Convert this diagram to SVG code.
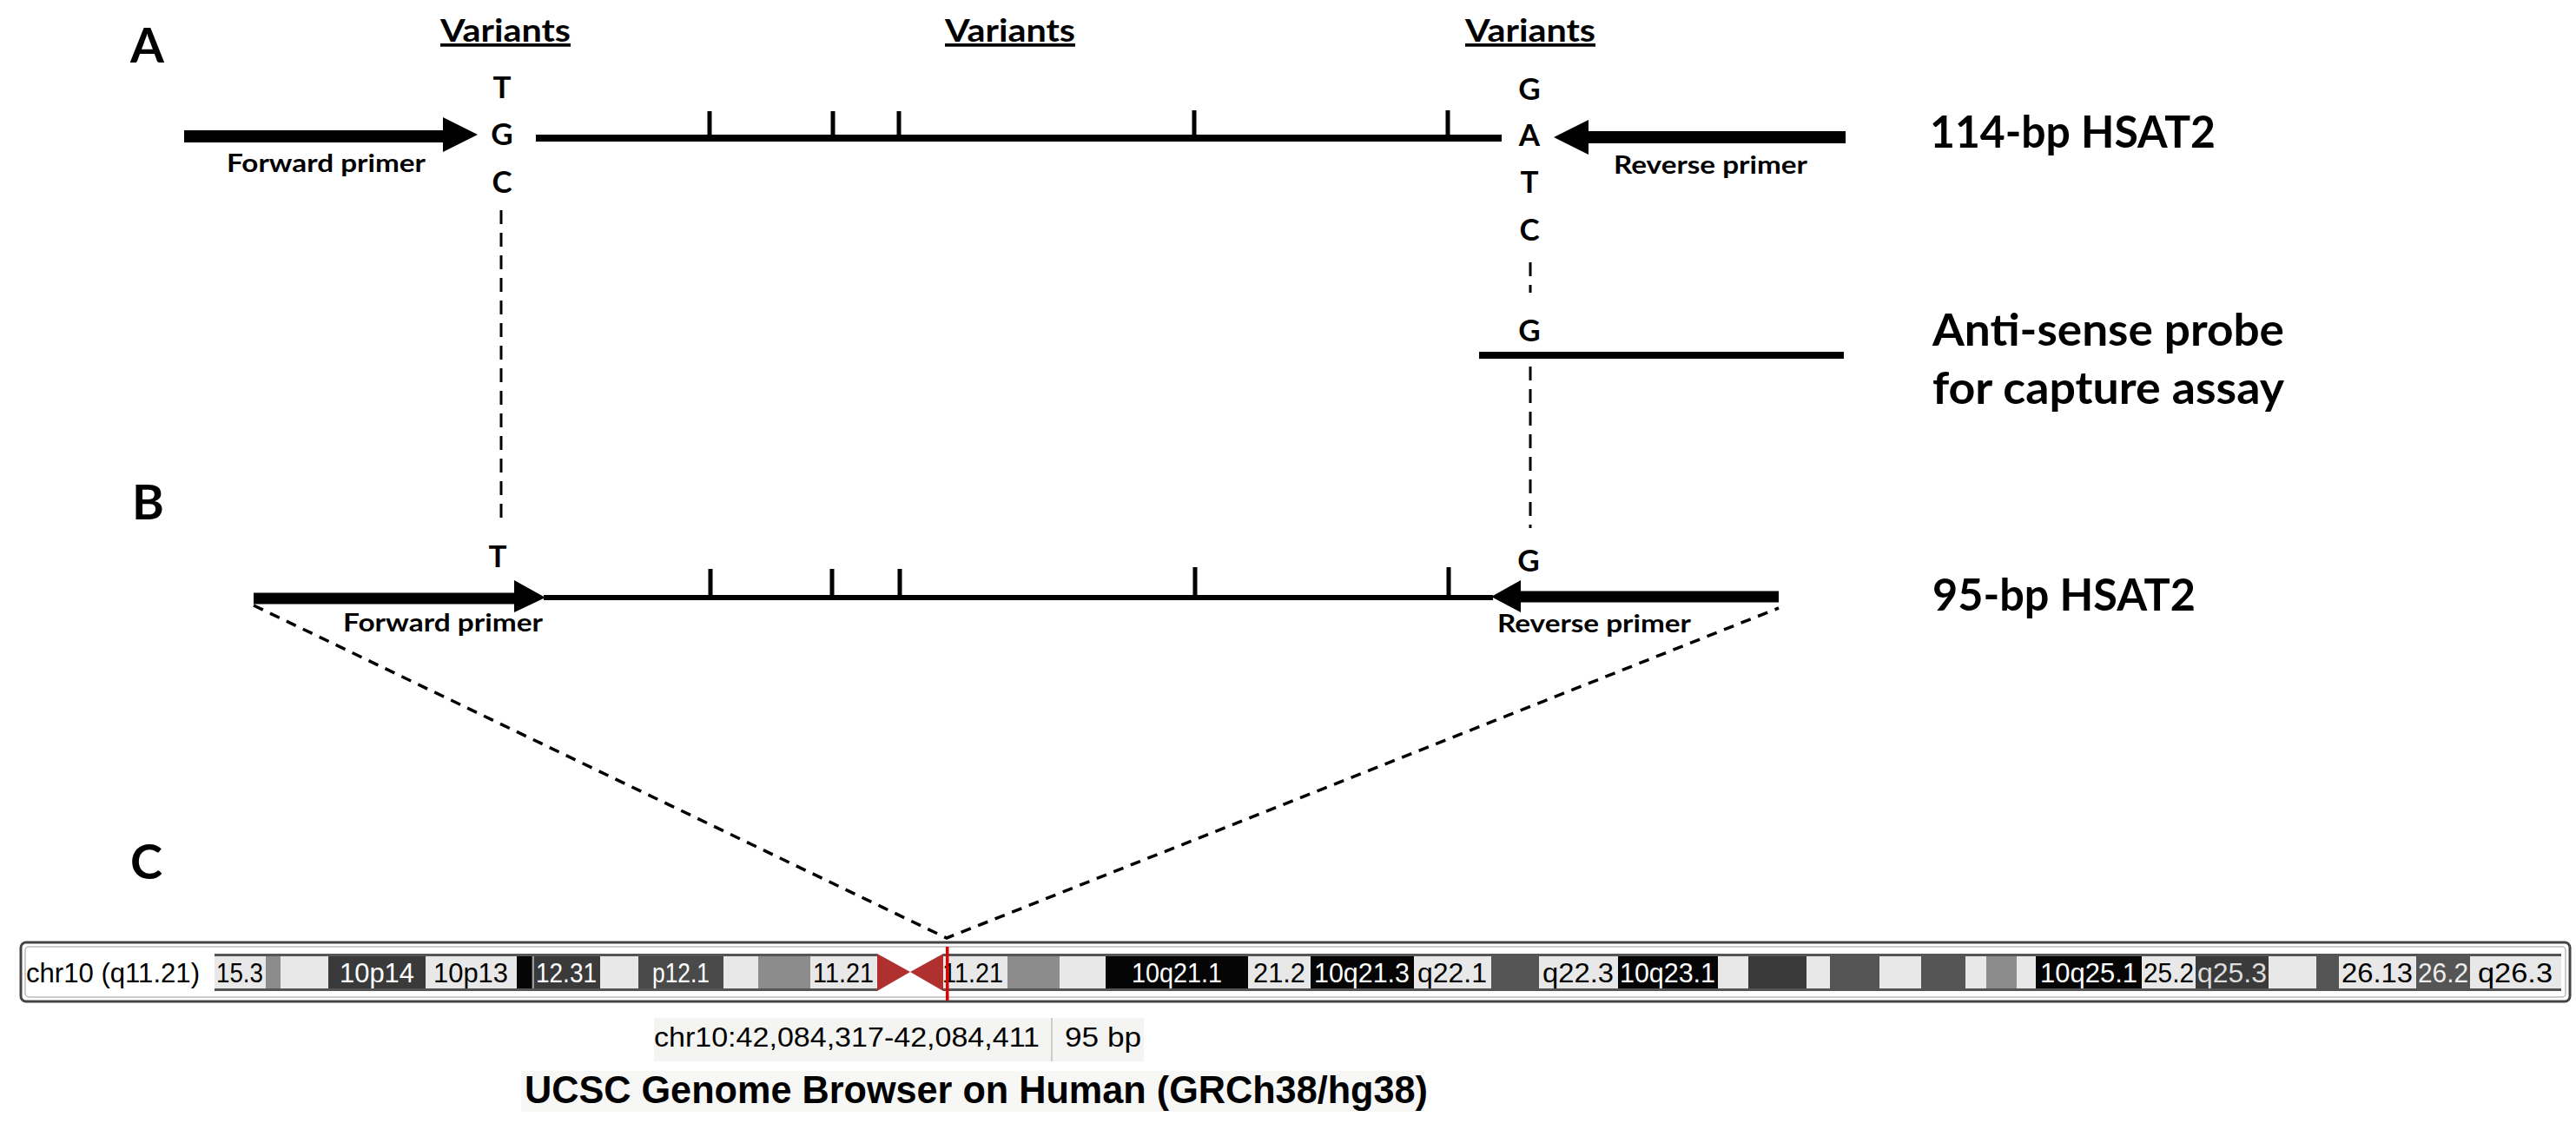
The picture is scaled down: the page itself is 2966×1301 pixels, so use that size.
<svg xmlns="http://www.w3.org/2000/svg" width="2966" height="1301" viewBox="0 0 2966 1301">
<style>
.c{font-family:Lato,"Open Sans",sans-serif;font-weight:bold;fill:#000}
.lab{font-size:56px}
.var{font-size:37px;text-decoration:underline}
.nt{font-size:35px;text-anchor:middle}
.pr{font-size:29px}
.big{font-size:51px}
.ln{stroke:#000;fill:none}
.dv{stroke:#000;stroke-width:3;stroke-dasharray:16 10;fill:none}
.dd{stroke:#000;stroke-width:3.5;stroke-dasharray:12 9;fill:none}
.bt{font-family:"Liberation Sans",Arial,sans-serif;font-size:32px;text-anchor:middle}
.w{fill:#fff}
.k{fill:#000}
.L{fill:#e8e8e8}
.G{fill:#8c8c8c}
.D{fill:#3a3a3a}
.M{fill:#555}
.B{fill:#050505}
.a{font-family:"Liberation Sans",Arial,sans-serif}
</style>
<rect width="2966" height="1301" fill="#fff"/>
<g id="labels">
<text class="c lab" x="150" y="72">A</text>
<text class="c lab" x="152" y="598">B</text>
<text class="c lab" x="150" y="1012">C</text>
</g>
<g id="node-A">
<text class="c var" x="507" y="48" textLength="150" lengthAdjust="spacingAndGlyphs">Variants</text>
<text class="c var" x="1088" y="48" textLength="150" lengthAdjust="spacingAndGlyphs">Variants</text>
<text class="c var" x="1687" y="48" textLength="150" lengthAdjust="spacingAndGlyphs">Variants</text>
<text class="c nt" x="578" y="113">T</text>
<text class="c nt" x="578" y="167">G</text>
<text class="c nt" x="578" y="222">C</text>
<text class="c nt" x="1761" y="115">G</text>
<text class="c nt" x="1761" y="168">A</text>
<text class="c nt" x="1761" y="222">T</text>
<text class="c nt" x="1761" y="277">C</text>
<text class="c nt" x="1761" y="393">G</text>
<path d="M212 157H512" stroke="#000" stroke-width="14"/>
<polygon points="510,135 550,155 510,175"/>
<path d="M1829 158H2125" stroke="#000" stroke-width="14"/>
<polygon points="1829,138 1789,158 1829,178"/>
<path class="ln" stroke-width="8" d="M617 159H1729"/>
<path class="ln" stroke-width="5" d="M817 159V128M959 159V128M1035 159V128M1375 159V127M1667 159V127"/>
<text class="c pr" x="261" y="198" textLength="229" lengthAdjust="spacingAndGlyphs">Forward primer</text>
<text class="c pr" x="1858" y="200" textLength="223" lengthAdjust="spacingAndGlyphs">Reverse primer</text>
<text class="c big" x="2222" y="170" textLength="329" lengthAdjust="spacingAndGlyphs">114-bp HSAT2</text>
</g>
<g id="node-probe">
<path class="ln" stroke-width="8" d="M1703 409H2123"/>
<text class="c big" x="2225" y="398" textLength="405" lengthAdjust="spacingAndGlyphs">Anti-sense probe</text>
<text class="c big" x="2225" y="465" textLength="405" lengthAdjust="spacingAndGlyphs">for capture assay</text>
</g>
<g id="node-B">
<text class="c nt" x="573" y="653">T</text>
<text class="c nt" x="1760" y="658">G</text>
<path d="M292 689H594" stroke="#000" stroke-width="13"/>
<polygon points="592,668 628,688 592,705"/>
<path d="M1749 687H2048" stroke="#000" stroke-width="13"/>
<polygon points="1751,668 1717,687 1751,705"/>
<path class="ln" stroke-width="6" d="M626 688H1719"/>
<path class="ln" stroke-width="5" d="M818 688V655M958 688V655M1036 688V655M1376 688V653M1668 688V653"/>
<text class="c pr" x="395" y="727" textLength="230" lengthAdjust="spacingAndGlyphs">Forward primer</text>
<text class="c pr" x="1724" y="728" textLength="223" lengthAdjust="spacingAndGlyphs">Reverse primer</text>
<text class="c big" x="2225" y="703" textLength="303" lengthAdjust="spacingAndGlyphs">95-bp HSAT2</text>
</g>
<g id="connectors">
<path class="dv" d="M577 242V603"/>
<path class="dv" d="M1762 302V337"/>
<path class="dv" d="M1762 422V608"/>
<path class="dd" d="M292 697L1090 1080L2048 700"/>
</g>
<g id="node-C">
<rect x="24" y="1085" width="2935" height="68" rx="6" fill="#fff" stroke="#444" stroke-width="3"/>
<rect x="29" y="1090" width="2925" height="58" rx="4" fill="none" stroke="#bbb" stroke-width="1.5"/>
<text class="a" x="30" y="1131" font-size="31" textLength="200" lengthAdjust="spacingAndGlyphs">chr10 (q11.21)</text>
<rect x="247" y="1098" width="2702" height="43" fill="#555"/>
<g transform="translate(0,0)">
<rect class="L" x="247" y="1101" width="59" height="37"/>
<rect class="G" x="306" y="1101" width="17" height="37"/>
<rect class="L" x="323" y="1101" width="55" height="37"/>
<rect class="D" x="378" y="1101" width="112" height="37"/>
<rect class="L" x="490" y="1101" width="105" height="37"/>
<rect class="B" x="595" y="1101" width="17" height="37"/>
<rect class="D" x="612" y="1101" width="79" height="37"/>
<rect fill="#999" x="613" y="1101" width="2" height="37"/>
<rect class="L" x="691" y="1101" width="44" height="37"/>
<rect fill="#4a4a4a" x="735" y="1101" width="98" height="37"/>
<rect class="L" x="833" y="1101" width="40" height="37"/>
<rect class="G" x="873" y="1101" width="60" height="37"/>
<rect class="L" x="933" y="1101" width="77" height="37"/>
<rect fill="#fff" x="1010" y="1097" width="76" height="45"/>
<polygon points="1010,1098 1048,1119 1086,1098 1086,1141 1048,1119 1010,1141" fill="#b03030"/>
<rect class="L" x="1086" y="1101" width="74" height="37"/>
<rect class="G" x="1160" y="1101" width="60" height="37"/>
<rect class="L" x="1220" y="1101" width="53" height="37"/>
<rect class="B" x="1273" y="1101" width="164" height="37"/>
<rect class="L" x="1437" y="1101" width="72" height="37"/>
<rect class="B" x="1509" y="1101" width="119" height="37"/>
<rect class="L" x="1628" y="1101" width="89" height="37"/>
<rect class="M" x="1717" y="1101" width="55" height="37"/>
<rect class="L" x="1772" y="1101" width="91" height="37"/>
<rect class="B" x="1863" y="1101" width="115" height="37"/>
<rect class="L" x="1978" y="1101" width="35" height="37"/>
<rect class="D" x="2013" y="1101" width="67" height="37"/>
<rect class="L" x="2080" y="1101" width="27" height="37"/>
<rect class="M" x="2107" y="1101" width="57" height="37"/>
<rect class="L" x="2164" y="1101" width="48" height="37"/>
<rect class="M" x="2212" y="1101" width="51" height="37"/>
<rect class="L" x="2263" y="1101" width="24" height="37"/>
<rect class="G" x="2287" y="1101" width="35" height="37"/>
<rect class="L" x="2322" y="1101" width="22" height="37"/>
<rect class="B" x="2344" y="1101" width="122" height="37"/>
<rect class="L" x="2466" y="1101" width="62" height="37"/>
<rect class="D" x="2528" y="1101" width="84" height="37"/>
<rect class="L" x="2612" y="1101" width="55" height="37"/>
<rect class="M" x="2667" y="1101" width="26" height="37"/>
<rect class="L" x="2693" y="1101" width="89" height="37"/>
<rect class="M" x="2782" y="1101" width="62" height="37"/>
<rect class="L" x="2844" y="1101" width="105" height="37"/>
</g>
<g class="bt">
<text x="276" y="1131" textLength="54" lengthAdjust="spacingAndGlyphs">15.3</text>
<text class="w" x="434" y="1131" textLength="86" lengthAdjust="spacingAndGlyphs">10p14</text>
<text x="542" y="1131" textLength="86" lengthAdjust="spacingAndGlyphs">10p13</text>
<text class="w" x="652" y="1131" textLength="70" lengthAdjust="spacingAndGlyphs">12.31</text>
<text class="w" x="784" y="1131" textLength="66" lengthAdjust="spacingAndGlyphs">p12.1</text>
<text x="971" y="1131" textLength="70" lengthAdjust="spacingAndGlyphs">11.21</text>
<text x="1120" y="1131" textLength="70" lengthAdjust="spacingAndGlyphs">11.21</text>
<text class="w" x="1355" y="1131" textLength="104" lengthAdjust="spacingAndGlyphs">10q21.1</text>
<text x="1473" y="1131" textLength="60" lengthAdjust="spacingAndGlyphs">21.2</text>
<text class="w" x="1568" y="1131" textLength="110" lengthAdjust="spacingAndGlyphs">10q21.3</text>
<text x="1672" y="1131" textLength="80" lengthAdjust="spacingAndGlyphs">q22.1</text>
<text x="1817" y="1131" textLength="82" lengthAdjust="spacingAndGlyphs">q22.3</text>
<text class="w" x="1920" y="1131" textLength="110" lengthAdjust="spacingAndGlyphs">10q23.1</text>
<text class="w" x="2405" y="1131" textLength="112" lengthAdjust="spacingAndGlyphs">10q25.1</text>
<text x="2497" y="1131" textLength="58" lengthAdjust="spacingAndGlyphs">25.2</text>
<text fill="#ddd" x="2570" y="1131" textLength="80" lengthAdjust="spacingAndGlyphs">q25.3</text>
<text x="2737" y="1131" textLength="82" lengthAdjust="spacingAndGlyphs">26.13</text>
<text fill="#eee" x="2813" y="1131" textLength="58" lengthAdjust="spacingAndGlyphs">26.2</text>
<text x="2896" y="1131" textLength="86" lengthAdjust="spacingAndGlyphs">q26.3</text>
</g>
<rect x="1089" y="1090" width="3.5" height="62" fill="#e00000"/>
<rect x="753" y="1172" width="564" height="50" fill="#f4f4f2"/>
<path d="M1211 1172V1222" stroke="#ccc" stroke-width="2"/>
<text class="a" x="753" y="1205" font-size="31" textLength="444" lengthAdjust="spacingAndGlyphs">chr10:42,084,317-42,084,411</text>
<text class="a" x="1226" y="1205" font-size="31" textLength="88" lengthAdjust="spacingAndGlyphs">95 bp</text>
<rect x="600" y="1233" width="1040" height="47" fill="#f7f7f5"/>
<text class="a" x="604" y="1270" font-size="44" font-weight="bold" textLength="1040" lengthAdjust="spacingAndGlyphs">UCSC Genome Browser on Human (GRCh38/hg38)</text>
</g>
</svg>
